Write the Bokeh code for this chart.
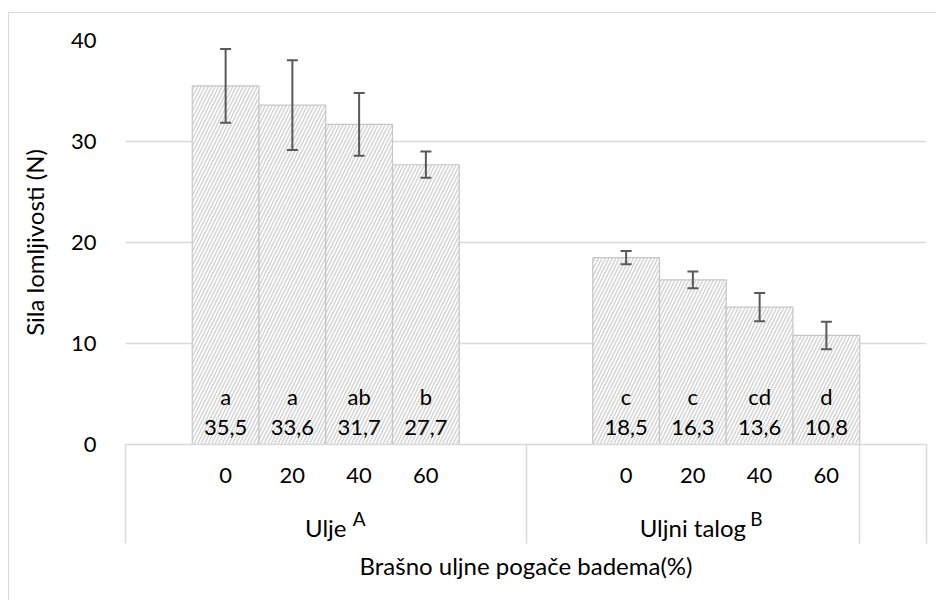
from bokeh.plotting import figure
from bokeh.models import (Range1d, FixedTicker, LinearAxis, Whisker, TeeHead,
                          ColumnDataSource)
from bokeh.core.properties import value
from bokeh.embed import file_html
from bokeh.resources import INLINE

# ---------------- data ----------------
groups = ["Ulje", "Uljni talog"]
group_sup = ["A", "B"]
levels = ["0", "20", "40", "60"]
ulje_mean = [35.5, 33.6, 31.7, 27.7]
ulje_err = [3.65, 4.45, 3.1, 1.3]
ulje_letters = ["a", "a", "ab", "b"]
talog_mean = [18.5, 16.3, 13.6, 10.8]
talog_err = [0.66, 0.83, 1.4, 1.36]
talog_letters = ["c", "c", "cd", "d"]
y_ticks = [0, 10, 20, 30, 40]
y_title = "Sila lomljivosti (N)"
x_title = "Brašno uljne pogače badema(%)"

# Excel-style multi-level category layout: blank slot + 4 levels (+ blank)
group_slots = [6, 5, 1]

FONT = "Lato"
TXT = "#000000"
GRID = "#d9d9d9"

bounds = [0]
for n in group_slots:
    bounds.append(bounds[-1] + n)

xs, tops, errs, lets, tick_labels = [], [], [], [], {}
for g, (means, es, ls) in enumerate([(ulje_mean, ulje_err, ulje_letters),
                                     (talog_mean, talog_err, talog_letters)]):
    for i, lv in enumerate(levels):
        x = bounds[g] + 1 + i + 0.5
        xs.append(x)
        tops.append(means[i])
        errs.append(es[i])
        lets.append(ls[i])
        tick_labels[x] = lv

src = ColumnDataSource(dict(
    x=xs, top=tops,
    upper=[t + e for t, e in zip(tops, errs)],
    lower=[t - e for t, e in zip(tops, errs)],
    letter=lets,
    val=[f"{t:.1f}".replace(".", ",") for t in tops],
))

group_centers = [(bounds[g] + bounds[g + 1]) / 2 for g in range(len(groups))]
# superscript placement: shift (in category slots) right of each group name
sup_shift = [0.5, 0.95]
sup_pos = [c + s for c, s in zip(group_centers, sup_shift)]

p = figure(frame_width=801, frame_height=404,
           min_border_left=125, min_border_top=40, min_border_right=10, min_border_bottom=156,
           x_range=Range1d(bounds[0], bounds[-1]), y_range=Range1d(0, 40),
           output_backend="svg", toolbar_location=None, tools="")
p.outline_line_color = None
p.background_fill_color = "white"
p.border_fill_color = None
p.styles = {
    "background": ("linear-gradient(#d9d9d9, #d9d9d9) 8px 12px / 1px 100% no-repeat, "
                   "linear-gradient(#d9d9d9, #d9d9d9) 8px 12px / 100% 1px no-repeat, #ffffff"),
}

# grid
p.xgrid.visible = False
p.ygrid.ticker = FixedTicker(ticks=y_ticks)
p.ygrid.grid_line_color = GRID
p.ygrid.grid_line_width = 1.5

# bars
p.vbar(x="x", top="top", bottom=0, width=1, source=src,
       fill_color="white", line_color="#c6c6c6", line_width=1.2,
       hatch_pattern="/", hatch_color="#d6d6d6", hatch_scale=7, hatch_weight=1.6)

# error bars
w = Whisker(base="x", upper="upper", lower="lower", source=src,
            line_color="#595959", line_width=2, level="overlay",
            upper_head=TeeHead(size=11, line_color="#595959", line_width=2),
            lower_head=TeeHead(size=11, line_color="#595959", line_width=2))
p.add_layout(w)

# in-bar labels
for col, off in (("letter", -48), ("val", -17)):
    p.text(x="x", y=0, text=col, source=src, text_font=value(FONT),
           text_font_size="22px", text_color=TXT, text_align="center",
           text_baseline="alphabetic", y_offset=off)

# y axis
ya = p.yaxis[0]
ya.ticker = FixedTicker(ticks=y_ticks)
ya.axis_line_color = None
ya.major_tick_line_color = None
ya.minor_tick_line_color = None
ya.major_label_standoff = 23
ya.major_label_text_font = FONT
ya.major_label_text_font_size = "22px"
ya.major_label_text_color = TXT
ya.axis_label = y_title
ya.axis_label_text_font = FONT
ya.axis_label_text_font_size = "24px"
ya.axis_label_text_font_style = "normal"
ya.axis_label_text_color = TXT
ya.axis_label_standoff = 19

# x axis 1: level ticks + group separators (minor ticks)
xa = p.xaxis[0]
xa.ticker = FixedTicker(ticks=xs, minor_ticks=bounds)
xa.major_label_overrides = tick_labels
xa.axis_line_color = GRID
xa.axis_line_width = 1.5
xa.major_tick_line_color = None
xa.major_tick_out = 0
xa.major_tick_in = 0
xa.minor_tick_line_color = GRID
xa.minor_tick_line_width = 1.5
xa.minor_tick_in = 0
xa.minor_tick_out = 99
xa.major_label_standoff = -76
xa.major_label_text_font = FONT
xa.major_label_text_font_size = "22px"
xa.major_label_text_color = TXT

# x axis 2: superscripts
xs_ax = LinearAxis(ticker=FixedTicker(ticks=sup_pos),
                   major_label_overrides={c: s for c, s in zip(sup_pos, group_sup)})
# x axis 3: group names + title
xg = LinearAxis(ticker=FixedTicker(ticks=group_centers),
                major_label_overrides={c: n for c, n in zip(group_centers, groups)})
for ax in (xs_ax, xg):
    ax.axis_line_color = None
    ax.major_tick_line_color = None
    ax.minor_tick_line_color = None
    ax.major_tick_out = 0
    ax.major_tick_in = 0
    ax.major_label_text_font = FONT
    ax.major_label_text_color = TXT
xs_ax.major_label_text_font_size = "19px"
xs_ax.major_label_standoff = 21
xg.major_label_text_font_size = "24px"
xg.major_label_standoff = -20
xg.axis_label = x_title
xg.axis_label_text_font = FONT
xg.axis_label_text_font_size = "24px"
xg.axis_label_text_font_style = "normal"
xg.axis_label_text_color = TXT
xg.axis_label_standoff = 6
p.add_layout(xs_ax, "below")
p.add_layout(xg, "below")

open("out.html", "w").write(file_html(p, INLINE))
